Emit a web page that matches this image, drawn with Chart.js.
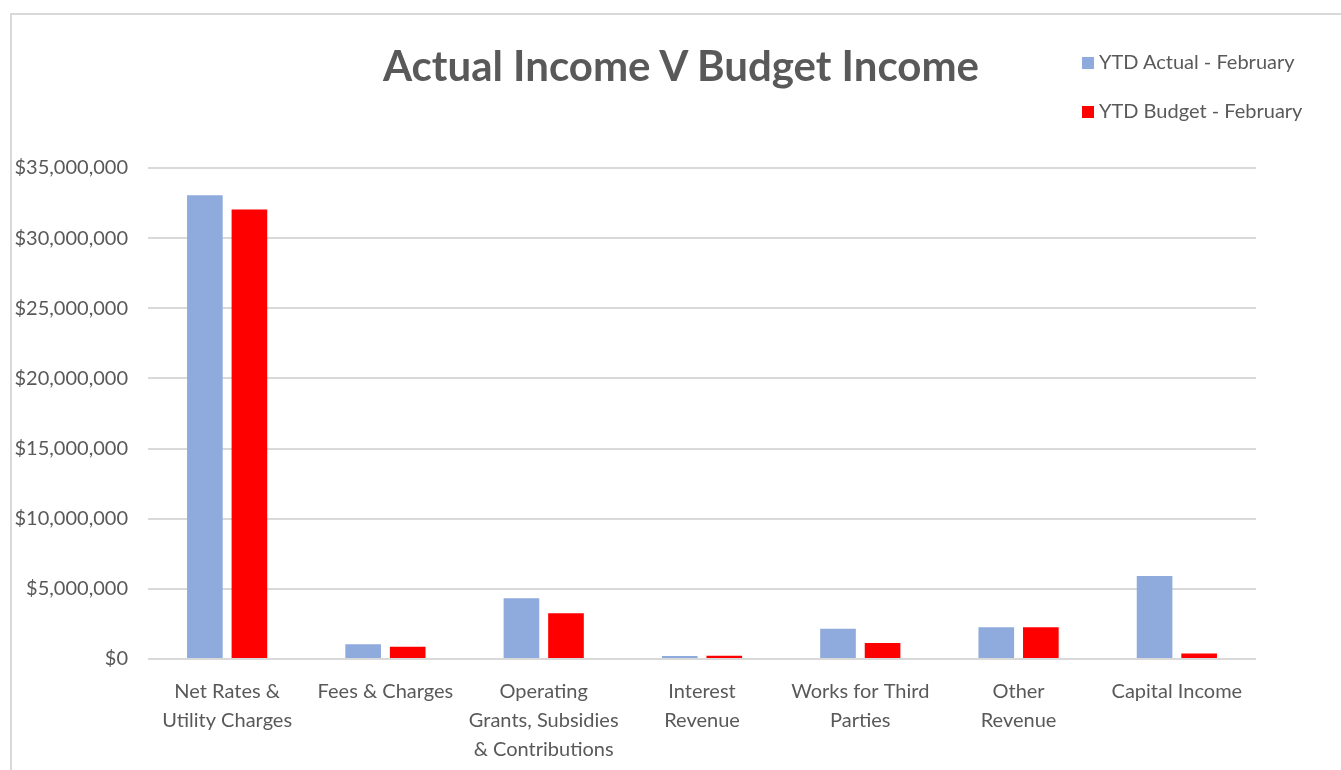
<!DOCTYPE html>
<html lang="en">
<head>
  <meta charset="UTF-8" />
  <title>Actual Income V Budget Income</title>
  <script src="https://cdn.jsdelivr.net/npm/chart.js"></script>
  <style>
    body {
      margin: 0;
      background: white;
      font-family: Lato, "Open Sans", sans-serif;
      color: #595959;
    }
    .wrap {
      position: relative;
      width: 1341px;
      height: 770px;
      overflow: hidden;
    }
    .frame {
      position: absolute;
      left: 10px;
      top: 13px;
      width: 1400px;
      height: 800px;
      border-top: 2px solid #d9d9d9;
      border-left: 2px solid #d9d9d9;
    }
    canvas {
      position: absolute;
      left: 0;
      top: 0;
    }
    .title {
      position: absolute;
      left: 281px;
      width: 800px;
      top: 40px;
      text-align: center;
      font-size: 42px;
      font-weight: bold;
      line-height: 50px;
    }
    .legend {
      position: absolute;
      left: 1082px;
      top: 47px;
      font-size: 20px;
    }
    .legend div {
      height: 49px;
      line-height: 28px;
      white-space: nowrap;
    }
    .legend span {
      display: inline-block;
      width: 12px;
      height: 12px;
      margin-right: 5px;
    }
  </style>
</head>
<body>
  <div class="wrap">
    <div class="frame"></div>
    <canvas id="incomeChart" width="1341" height="770"></canvas>
    <div class="title" id="title"></div>
    <div class="legend" id="legend"></div>
  </div>

  <script>
    const chartTitle = "Actual Income V Budget Income";
    const categories = [
      ["Net Rates &", "Utility Charges"],
      "Fees & Charges",
      ["Operating", "Grants, Subsidies", "& Contributions"],
      ["Interest", "Revenue"],
      ["Works for Third", "Parties"],
      ["Other", "Revenue"],
      "Capital Income"
    ];
    const seriesNames = ["YTD Actual - February", "YTD Budget - February"];
    const actualValues = [33050000, 1050000, 4330000, 210000, 2160000, 2260000, 5920000];
    const budgetValues = [32050000, 880000, 3260000, 240000, 1140000, 2260000, 400000];
    const seriesColors = ["#8faadc", "#ff0000"];

    document.getElementById("title").innerText = chartTitle;

    // HTML legend, stacked like the original
    const legend = document.getElementById("legend");
    seriesNames.forEach((name, i) => {
      legend.innerHTML += `<div><span style="background:${seriesColors[i]}"></span>${name}</div>`;
    });

    const textColor = "#595959";
    const fontFamily = "Lato, 'Open Sans', sans-serif";

    new Chart(document.getElementById("incomeChart"), {
      type: 'bar',
      data: {
        labels: categories,
        datasets: [
          { label: seriesNames[0], data: actualValues, backgroundColor: seriesColors[0] },
          { label: seriesNames[1], data: budgetValues, backgroundColor: seriesColors[1] }
        ]
      },
      options: {
        responsive: false,
        animation: false,
        categoryPercentage: 0.563,
        barPercentage: 0.8,
        layout: { padding: { top: 168, right: 85, left: 0, bottom: 0 } },
        plugins: {
          legend: { display: false },
          title: { display: false },
          tooltip: { enabled: false }
        },
        scales: {
          x: {
            grid: { display: false },
            border: { display: false },
            ticks: {
              color: textColor,
              font: { family: fontFamily, size: 20, lineHeight: 1.45 },
              padding: 10,
              maxRotation: 0,
              autoSkip: false
            },
            afterFit: (scale) => { scale.height = 111; }
          },
          y: {
            min: 0,
            max: 35000000,
            grid: { color: "#d9d9d9", lineWidth: 2, drawTicks: false },
            border: { display: false },
            ticks: {
              stepSize: 5000000,
              color: textColor,
              font: { family: fontFamily, size: 20 },
              padding: 20,
              callback: (v) => "$" + v.toLocaleString("en-US")
            },
            afterFit: (scale) => { scale.width = 148; }
          }
        }
      }
    });
  </script>
</body>
</html>
